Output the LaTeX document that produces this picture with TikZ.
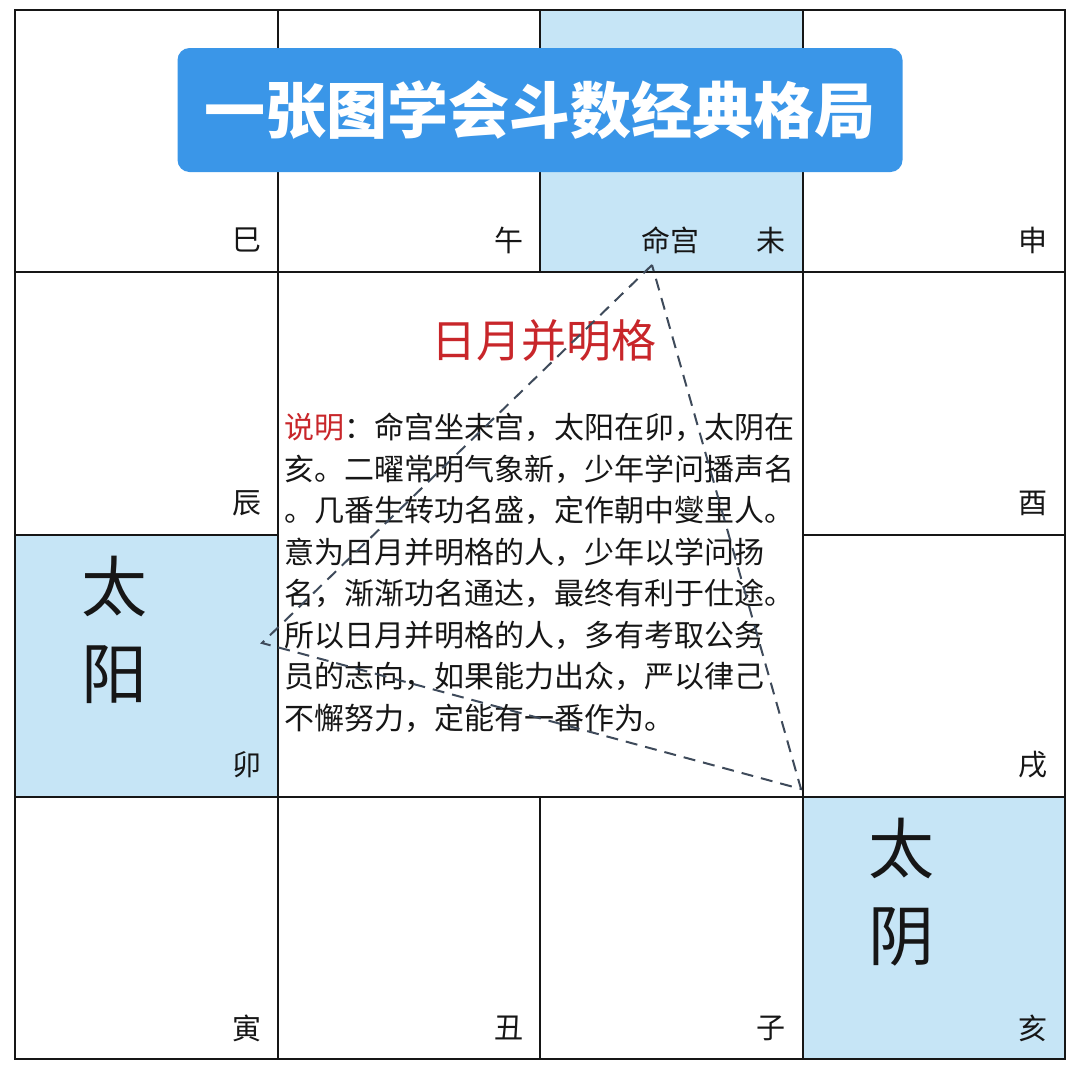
\documentclass[tikz,border=0pt]{standalone}
\usepackage{fontspec}
\newfontfamily\cjk{Noto Sans CJK SC}
\usepackage{xcolor}
\usepackage{tikz}
\definecolor{ink}{RGB}{22,22,22}
\definecolor{palacefill}{RGB}{198,229,246}
\definecolor{bannerfill}{RGB}{58,150,232}
\definecolor{patternred}{RGB}{200,38,42}
\definecolor{dashink}{RGB}{62,74,90}
\def\CxA{15}
\def\CxB{278}
\def\CxC{540}
\def\CxD{803}
\def\CxE{1065}
\def\RyA{10}
\def\RyB{272}
\def\RyC{535}
\def\RyD{797}
\def\RyE{1059}
\tikzset{
  gridline/.style={draw=ink, line width=1.5pt},
  branch/.style={
    font=\cjk\fontsize{29}{32}\selectfont, text=ink, inner sep=0pt,
  },
  starname/.style={
    font=\cjk\fontsize{66}{87}\selectfont, text=ink, align=center, inner sep=0pt,
  },
  banner/.style={
    fill=bannerfill, rounded corners=12pt, minimum width=725pt, minimum height=124pt,
    text=white, font=\cjk\bfseries\fontsize{61}{68}\selectfont, inner sep=0pt,
  },
  patname/.style={
    font=\cjk\fontsize{45}{48}\selectfont, text=patternred, inner sep=0pt,
  },
  explain/.style={
    font=\cjk\fontsize{30}{41.5}\selectfont, text=ink, align=left, inner sep=0pt,
  },
  triline/.style={draw=dashink, line width=2pt, dash pattern=on 12pt off 8pt},
}

\begin{document}
\begin{tikzpicture}[x=1pt,y=-1pt]
  \useasboundingbox (0,0) rectangle (1080,1074);

  % highlighted palaces
  \fill[palacefill] (\CxC,\RyA) rectangle (\CxD,\RyB);
  \fill[palacefill] (\CxA,\RyC) rectangle (\CxB,\RyD);
  \fill[palacefill] (\CxD,\RyD) rectangle (\CxE,\RyE);

  % grid
  \draw[gridline] (\CxA,\RyA) rectangle (\CxE,\RyE);
  \draw[gridline] (\CxB,\RyA) -- (\CxB,\RyE);
  \draw[gridline] (\CxD,\RyA) -- (\CxD,\RyE);
  \draw[gridline] (\CxA,\RyB) -- (\CxE,\RyB);
  \draw[gridline] (\CxA,\RyD) -- (\CxE,\RyD);
  \draw[gridline] (\CxC,\RyA) -- (\CxC,\RyB);
  \draw[gridline] (\CxC,\RyD) -- (\CxC,\RyE);
  \draw[gridline] (\CxA,\RyC) -- (\CxB,\RyC);
  \draw[gridline] (\CxD,\RyC) -- (\CxE,\RyC);

  % earthly branches
  \node[branch] (si)   at (247,240)  {巳};
  \node[branch] (wu)   at (509,240)  {午};
  \node[branch] (wei)  at (771,240)  {未};
  \node[branch] (shen) at (1033,240) {申};
  \node[branch] (chen) at (247,503)  {辰};
  \node[branch] (you)  at (1033,503) {酉};
  \node[branch] (mao)  at (247,765)  {卯};
  \node[branch] (xu)   at (1033,765) {戌};
  \node[branch] (yinb) at (247,1028) {寅};
  \node[branch] (chou) at (509,1028) {丑};
  \node[branch] (zi)   at (771,1028) {子};
  \node[branch] (hai)  at (1033,1028) {亥};
  \node[branch] (ming) at (670,240)  {命宫};

  % stars
  \node[starname] (taiyang) at (114,630) {太\\阳};
  \node[starname] (taiyin)  at (901,892) {太\\阴};

  % title
  \node[banner] (title) at (540,110) {一张图学会斗数经典格局};

  % centre text
  \node[patname] (pattern) at (544,340) {日月并明格};
  \node[explain, anchor=north west] (expl) at (284,413) {%
    {\color{patternred}说明}：命宫坐未宫，太阳在卯，太阴在\\
    亥。二曜常明气象新，少年学问播声名\\
    。几番生转功名盛，定作朝中燮里人。\\
    意为日月并明格的人，少年以学问扬\\
    名，渐渐功名通达，最终有利于仕途。\\
    所以日月并明格的人，多有考取公务\\
    员的志向，如果能力出众，严以律己\\
    不懈努力，定能有一番作为。};

  % triangle
  \coordinate (tming) at (652,265);
  \coordinate (tyang) at (262,643);
  \coordinate (tyin)  at (801,789);
  \draw[triline] (tming) -- (tyang) -- (tyin) -- cycle;
\end{tikzpicture}
\end{document}
